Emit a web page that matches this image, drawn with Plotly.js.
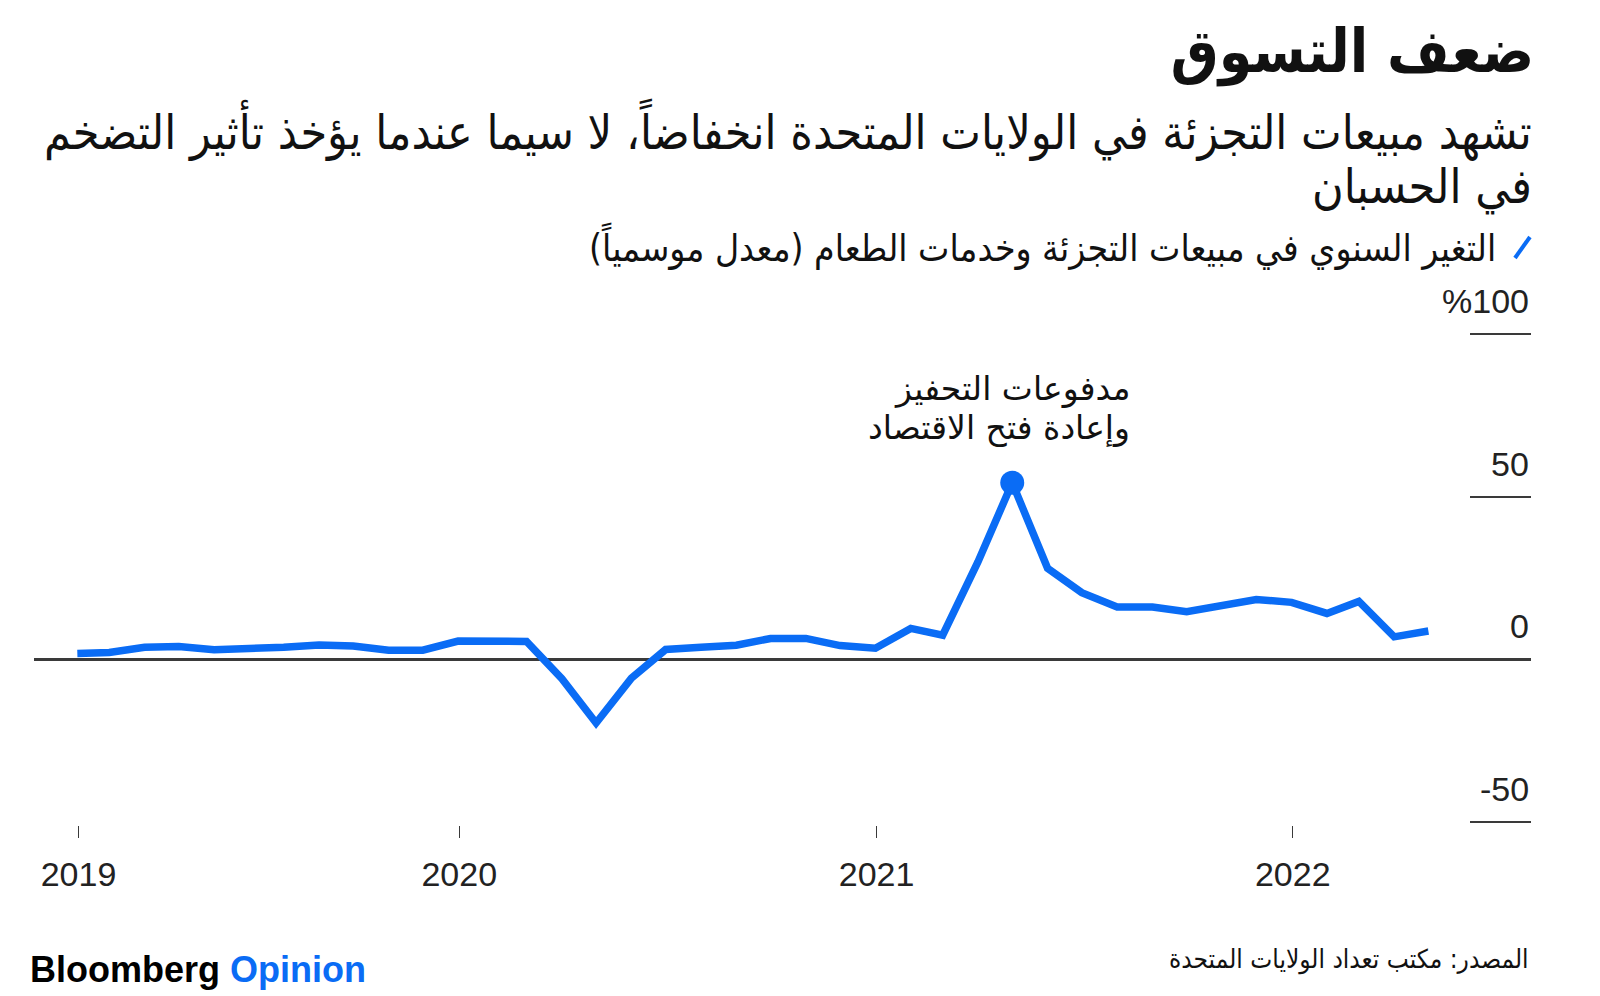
<!DOCTYPE html>
<html>
<head>
<meta charset="utf-8">
<script src="https://cdn.plot.ly/plotly-3.0.1.min.js"></script>
<style>
  html, body { margin: 0; padding: 0; background: #fff; }
  #chart { width: 1600px; height: 996px; }
</style>
</head>
<body>
<div id="chart"></div>
<script>
// ---- Data ----
const months = [
  "2019-01-31","2019-02-28","2019-03-31","2019-04-30","2019-05-31","2019-06-30",
  "2019-07-31","2019-08-31","2019-09-30","2019-10-31","2019-11-30","2019-12-31",
  "2020-01-31","2020-02-29","2020-03-31","2020-04-30","2020-05-31","2020-06-30",
  "2020-07-31","2020-08-31","2020-09-30","2020-10-31","2020-11-30","2020-12-31",
  "2021-01-31","2021-02-28","2021-03-31","2021-04-30","2021-05-31","2021-06-30",
  "2021-07-31","2021-08-31","2021-09-30","2021-10-31","2021-11-30","2021-12-31",
  "2022-01-31","2022-02-28","2022-03-31","2022-04-30"
];
const yoyChange = [
  1.8, 2.1, 3.7, 3.9, 2.9, 3.1, 3.7, 4.4, 4.1, 2.8, 2.8, 5.6,
  5.5, 5.5, -6.0, -19.6, -5.8, 3.0, 3.7, 4.3, 6.4, 6.4, 4.2, 3.4,
  9.5, 7.4, 30.0, 54.3, 28.0, 20.5, 16.1, 16.1, 14.6, 16.7, 18.4, 17.5,
  14.1, 17.8, 6.9, 8.7
];
const xTickVals = ["2019-02-01", "2020-01-01", "2021-01-01", "2022-01-01"];
const xTickText = ["2019", "2020", "2021", "2022"];
const yTickVals = [-50, 0, 50, 100];
const yTickText = ["-50", "0", "50", "%100"];

const titleText = "ضعف التسوق";
const subtitleLine1 = "تشهد مبيعات التجزئة في الولايات المتحدة انخفاضاً، لا سيما عندما يؤخذ تأثير التضخم";
const subtitleLine2 = "في الحسبان";
const seriesName = "التغير السنوي في مبيعات التجزئة وخدمات الطعام (معدل موسمياً)\u200F";
const peakNoteLines = ["مدفوعات التحفيز", "وإعادة فتح الاقتصاد"];
const sourceText = "المصدر: مكتب تعداد الولايات المتحدة";

// ---- Styling ----
const BLUE = "#0a6cf5";
const AXIS = "#3a3a3a";
const AR_FONT = "DejaVu Sans Condensed, DejaVu Sans, sans-serif";
const NUM_FONT = "Liberation Sans, Arial, sans-serif";

const peakIdx = yoyChange.indexOf(Math.max(...yoyChange));

const traces = [
  {
    x: months, y: yoyChange, type: "scatter", mode: "lines",
    name: seriesName,
    line: { color: BLUE, width: 7.5, shape: "linear" },
    hoverinfo: "x+y", showlegend: false
  },
  {
    x: [months[peakIdx]], y: [yoyChange[peakIdx]], type: "scatter", mode: "markers",
    marker: { color: BLUE, size: 24 },
    hoverinfo: "x+y", showlegend: false
  }
];

const annotations = [];
// y tick labels above the short tick lines
yTickVals.forEach((v, i) => {
  annotations.push({
    x: 1, xref: "paper", xanchor: "right",
    y: v, yref: "y", yanchor: "middle", yshift: 33,
    text: yTickText[i], showarrow: false,
    font: { family: NUM_FONT, size: 34, color: "#222" }
  });
});
// subtitle
annotations.push({
  x: 1.002, xref: "paper", xanchor: "right",
  y: 1.4069, yref: "paper", yanchor: "middle",
  text: subtitleLine1, showarrow: false,
  font: { family: AR_FONT, size: 48, color: "#111" }
});
annotations.push({
  x: 1.002, xref: "paper", xanchor: "right",
  y: 1.2915, yref: "paper", yanchor: "middle",
  text: subtitleLine2, showarrow: false,
  font: { family: AR_FONT, size: 48, color: "#111" }
});
// legend label
annotations.push({
  x: 0.978, xref: "paper", xanchor: "right",
  y: 1.172, yref: "paper", yanchor: "middle",
  text: seriesName, showarrow: false,
  font: { family: AR_FONT, size: 37, color: "#111" }
});
// peak note (two lines)
peakNoteLines.forEach((t, i) => {
  annotations.push({
    x: months[peakIdx], xref: "x", xanchor: "right", xshift: 120,
    y: yoyChange[peakIdx], yref: "y", yanchor: "middle", yshift: 94 - 39 * i,
    text: t, showarrow: false,
    font: { family: "DejaVu Sans, sans-serif", size: 33, color: "#111" }
  });
});
// footer
annotations.push({
  x: -0.004, xref: "paper", xanchor: "left",
  y: -0.2915, yref: "paper", yanchor: "middle",
  text: "<b>Bloomberg <span style='color:" + BLUE + "'>Opinion</span></b>",
  showarrow: false,
  font: { family: NUM_FONT, size: 36, color: "#000" }
});
annotations.push({
  x: 1.0, xref: "paper", xanchor: "right",
  y: -0.2713, yref: "paper", yanchor: "middle",
  text: sourceText, showarrow: false,
  font: { family: AR_FONT, size: 26, color: "#111" }
});

const layout = {
  width: 1600, height: 996,
  margin: { l: 34, r: 69, t: 331, b: 171 },
  paper_bgcolor: "#fff", plot_bgcolor: "#fff",
  title: {
    text: "<b>" + titleText + "</b>",
    font: { family: AR_FONT, size: 60, color: "#111" },
    xref: "container", x: 0.9588, xanchor: "right",
    yref: "container", y: 0.949, yanchor: "middle"
  },
  xaxis: {
    type: "date",
    range: ["2018-12-24", "2022-07-29"],
    tickmode: "array", tickvals: xTickVals, ticktext: xTickText,
    ticks: "outside", ticklen: 12, tickwidth: 1.5, tickcolor: AXIS,
    showgrid: false, zeroline: false, showline: false,
    tickfont: { family: NUM_FONT, size: 34, color: "#222" },
    ticklabelstandoff: 7,
    fixedrange: true
  },
  yaxis: {
    side: "right",
    range: [-51, 101],
    tickmode: "array", tickvals: yTickVals,
    ticks: "inside", ticklen: 61, tickwidth: 2, tickcolor: AXIS,
    showticklabels: false,
    showgrid: false, showline: false,
    zeroline: true, zerolinecolor: AXIS, zerolinewidth: 2.5,
    fixedrange: true
  },
  shapes: [
    {
      type: "line", xref: "paper", yref: "paper",
      x0: 0.9893, y0: 1.1478, x1: 0.9993, y1: 1.1903,
      line: { color: BLUE, width: 4 }
    }
  ],
  annotations: annotations,
  showlegend: false
};

Plotly.newPlot("chart", traces, layout, { displayModeBar: false, staticPlot: true });
</script>
</body>
</html>
